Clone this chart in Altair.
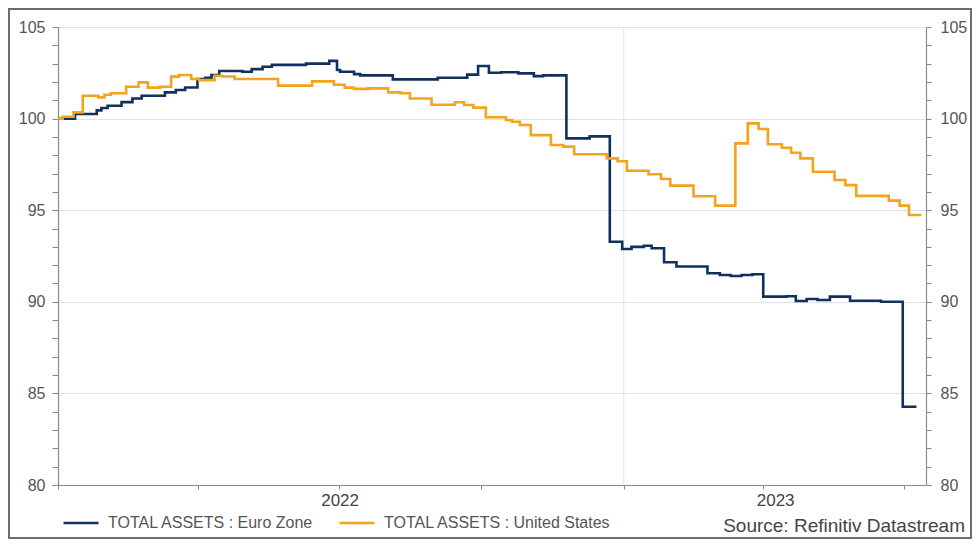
import altair as alt
import pandas as pd

# ---------------- data ----------------
ez_dates = [
    "2022-01-01", "2022-01-12", "2022-01-26", "2022-01-29", "2022-02-02", "2022-02-11",
    "2022-02-18", "2022-02-24", "2022-03-11", "2022-03-18", "2022-03-24", "2022-04-01",
    "2022-04-06", "2022-04-10", "2022-04-15", "2022-04-30", "2022-05-06", "2022-05-13",
    "2022-05-19", "2022-06-10", "2022-06-25", "2022-06-30", "2022-07-02", "2022-07-11",
    "2022-07-15", "2022-08-05", "2022-09-03", "2022-09-22", "2022-09-29", "2022-10-06",
    "2022-10-14", "2022-10-25", "2022-11-04", "2022-11-10", "2022-11-25", "2022-12-10",
    "2022-12-23", "2022-12-31", "2023-01-06", "2023-01-14", "2023-01-19", "2023-01-27",
    "2023-02-04", "2023-02-24", "2023-03-04", "2023-03-11", "2023-03-18", "2023-03-25",
    "2023-04-01", "2023-04-16", "2023-04-22", "2023-04-29", "2023-05-06", "2023-05-14",
    "2023-05-27", "2023-06-16", "2023-06-30", "2023-07-08",
]
ez_values = [
    100.0, 100.25, 100.45, 100.58, 100.7, 100.9,
    101.1, 101.25, 101.43, 101.56, 101.7, 102.16,
    102.23, 102.38, 102.6, 102.56, 102.7, 102.83,
    102.93, 103.0, 103.15, 102.65, 102.56, 102.43,
    102.36, 102.14, 102.23, 102.4, 102.87, 102.5,
    102.53, 102.47, 102.32, 102.36, 98.92, 99.03,
    93.28, 92.88, 93.0, 93.06, 92.92, 92.16,
    91.93, 91.56, 91.46, 91.41, 91.46, 91.5,
    90.28, 90.3, 90.04, 90.15, 90.1, 90.28,
    90.06, 90.0, 84.27, 84.2,
]

us_dates = [
    "2022-01-01", "2022-01-04", "2022-01-11", "2022-01-17", "2022-01-27", "2022-01-31",
    "2022-02-04", "2022-02-14", "2022-02-22", "2022-02-28", "2022-03-08", "2022-03-15",
    "2022-03-20", "2022-03-28", "2022-04-02", "2022-04-12", "2022-04-17", "2022-04-25",
    "2022-05-23", "2022-06-14", "2022-06-28", "2022-07-05", "2022-07-11", "2022-07-20",
    "2022-08-02", "2022-08-10", "2022-08-16", "2022-08-30", "2022-09-14", "2022-09-20",
    "2022-09-26", "2022-10-04", "2022-10-17", "2022-10-21", "2022-10-26", "2022-11-02",
    "2022-11-15", "2022-11-23", "2022-11-30", "2022-12-21", "2022-12-28", "2023-01-03",
    "2023-01-17", "2023-01-25", "2023-01-31", "2023-02-15", "2023-03-01", "2023-03-14",
    "2023-03-22", "2023-03-29", "2023-04-04", "2023-04-13", "2023-04-19", "2023-04-25",
    "2023-05-03", "2023-05-17", "2023-05-24", "2023-05-31", "2023-06-21", "2023-06-28",
    "2023-07-04", "2023-07-12",
]
us_values = [
    100.0, 100.1, 100.34, 101.25, 101.16, 101.3,
    101.38, 101.74, 101.98, 101.69, 101.74, 102.29,
    102.38, 102.16, 102.1, 102.34, 102.3, 102.16,
    101.8, 102.03, 101.85, 101.69, 101.62, 101.65,
    101.43, 101.38, 101.1, 100.76, 100.89, 100.74,
    100.6, 100.07, 99.92, 99.83, 99.65, 99.1,
    98.56, 98.47, 98.05, 97.83, 97.67, 97.15,
    96.96, 96.7, 96.34, 95.76, 95.25, 98.65,
    99.74, 99.43, 98.6, 98.41, 98.14, 97.83,
    97.1, 96.65, 96.37, 95.78, 95.52, 95.25,
    94.74, 94.74,
]

series_names = ["TOTAL ASSETS : Euro Zone", "TOTAL ASSETS : United States"]
series_colors = ["#10305e", "#f5a31c"]

year_labels = ["2022", "2023"]
year_label_dates = ["2022-07-02", "2023-04-09"]
year_grid_dates = ["2023-01-01"]
source_text = "Source: Refinitiv Datastream"

# ---------------- build tables ----------------
df = pd.concat([
    pd.DataFrame({"date": pd.to_datetime(ez_dates), "value": ez_values, "series": series_names[0]}),
    pd.DataFrame({"date": pd.to_datetime(us_dates), "value": us_values, "series": series_names[1]}),
])
years_df = pd.DataFrame({"date": pd.to_datetime(year_label_dates), "label": year_labels})
grid_df = pd.DataFrame({"date": pd.to_datetime(year_grid_dates)})

FONT = "Liberation Sans"
AX = "#8a8a8a"
LAB = "#555555"

x_scale = alt.Scale(domain=[alt.DateTime(year=2022, month=1, date=1),
                            alt.DateTime(year=2023, month=7, date=15)])
y_scale = alt.Scale(domain=[80, 105], nice=False, zero=False)

quarter_ticks = [alt.DateTime(year=y, month=m, date=1)
                 for y, m in [(2022, 1), (2022, 4), (2022, 7), (2022, 10),
                              (2023, 1), (2023, 4), (2023, 7)]]

x_axis = alt.Axis(values=quarter_ticks, labels=False, grid=False, title=None,
                  domainColor=AX, tickColor=AX, tickSize=4, domainWidth=1.2)

def y_axis(orient):
    kw = dict(orient=orient, values=list(range(80, 106)), title=None,
              labelExpr="datum.value % 5 === 0 ? datum.label : ''",
              domainColor=AX, tickColor=AX, tickSize=6 if orient == "left" else 5,
              labelColor=LAB, labelFontSize=16, labelFont=FONT,
              labelPadding=7 if orient == "left" else 9, domainWidth=1.2)
    if orient == "left":
        kw.update(grid=True, gridColor="#e2e2e2",
                  gridOpacity={"condition": {"test": "datum.value % 5 === 0", "value": 1}, "value": 0})
    else:
        kw.update(grid=False)
    return alt.Axis(**kw)

vgrid = alt.Chart(grid_df).mark_rule(color="#e2e2e2", strokeWidth=1).encode(
    x=alt.X("date:T", scale=x_scale, axis=x_axis)
)

lines = alt.Chart(df).mark_line(interpolate="step-after", strokeWidth=2.6).encode(
    x=alt.X("date:T", scale=x_scale, axis=x_axis),
    y=alt.Y("value:Q", scale=y_scale, axis=y_axis("left")),
    color=alt.Color("series:N",
                    scale=alt.Scale(domain=series_names, range=series_colors),
                    legend=alt.Legend(orient="none", legendX=4, legendY=477,
                                      direction="horizontal", title=None,
                                      symbolType="stroke", symbolSize=1225,
                                      symbolStrokeWidth=2.6, labelFont=FONT,
                                      labelFontSize=16, labelColor=LAB,
                                      labelOffset=8, columnPadding=20,
                                      labelLimit=400)),
)

right_axis = alt.Chart(df).mark_line(strokeOpacity=0).encode(
    x=alt.X("date:T", scale=x_scale, axis=x_axis),
    y=alt.Y("value:Q", scale=y_scale, axis=y_axis("right")),
    detail="series:N",
)

years = alt.Chart(years_df).mark_text(font=FONT, fontSize=17, color="#444444",
                                       baseline="middle").encode(
    x=alt.X("date:T", scale=x_scale, axis=x_axis),
    y=alt.value(474),
    text="label:N",
)

source = alt.Chart(pd.DataFrame({"t": [source_text]})).mark_text(
    font=FONT, fontSize=19, color="#444444", align="right", baseline="alphabetic"
).encode(x=alt.value(907), y=alt.value(505), text="t:N")

border = alt.Chart(pd.DataFrame({"k": [0]})).mark_rect(
    fill="transparent", stroke="#6e6e6e", strokeWidth=2
).encode(x=alt.value(-49), x2=alt.value(913), y=alt.value(-18), y2=alt.value(511))

chart = alt.layer(vgrid, lines, right_axis, years, source, border).resolve_axis(
    y="independent"
).properties(
    width=868, height=458,
    autosize=alt.AutoSizeParams(type="none"),
    padding={"left": 50, "top": 19, "right": 46, "bottom": 54},
    background="white",
).configure_view(strokeWidth=0)

chart.save("out.html", embed_options={"renderer": "svg", "actions": False})
